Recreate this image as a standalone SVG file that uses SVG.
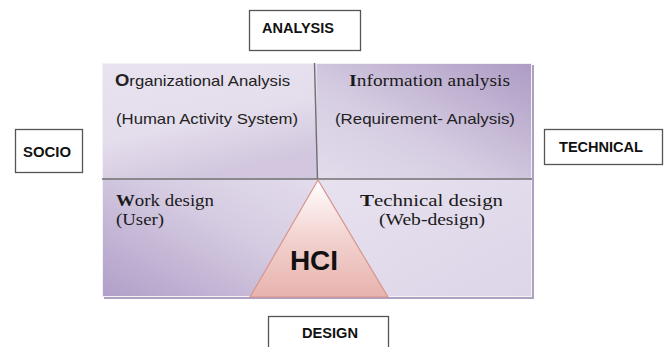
<svg xmlns="http://www.w3.org/2000/svg" width="667" height="347" viewBox="0 0 667 347">
<style>
.lbl{font-family:"Liberation Sans",Arial,sans-serif;font-weight:bold;font-size:14px;fill:#111}
.box{fill:#fff;stroke:#555;stroke-width:1.3}
.sans{font-family:"Liberation Sans",Arial,sans-serif;font-size:14.5px;fill:#222}
.serif{font-family:"Liberation Serif","Times New Roman",serif;font-size:16.5px;fill:#1a1a1a}
.div{stroke:#707070;stroke-width:1.4;fill:none}
</style>
<defs>
<linearGradient id="gTL" x1="0" y1="0" x2="0.4" y2="1"><stop offset="0" stop-color="#e9e3f0"/><stop offset="0.6" stop-color="#e4ddec"/><stop offset="1" stop-color="#d2c7de"/></linearGradient>
<linearGradient id="gTR" x1="1" y1="0" x2="0" y2="1"><stop offset="0" stop-color="#ad9bc4"/><stop offset="0.6" stop-color="#d6cde2"/><stop offset="1" stop-color="#e3dcec"/></linearGradient>
<linearGradient id="gBL" x1="0" y1="1" x2="1" y2="0"><stop offset="0" stop-color="#b09fc8"/><stop offset="0.6" stop-color="#d6cce2"/><stop offset="1" stop-color="#e3dcec"/></linearGradient>
<linearGradient id="gBR" x1="0" y1="0" x2="1" y2="1"><stop offset="0" stop-color="#e7e1ef"/><stop offset="1" stop-color="#ddd5e8"/></linearGradient>
<linearGradient id="gTri" x1="0" y1="0" x2="0" y2="1"><stop offset="0" stop-color="#ffffff"/><stop offset="0.5" stop-color="#f2d2cf"/><stop offset="1" stop-color="#e8b3ae"/></linearGradient>
</defs>
<g id="matrix">
<rect x="104" y="65" width="430" height="234" fill="#ada0c0"/>
<rect x="102" y="63" width="215" height="116" fill="url(#gTL)"/>
<rect x="317" y="63" width="215" height="116" fill="url(#gTR)"/>
<rect x="102" y="179" width="216" height="118" fill="url(#gBL)"/>
<rect x="318" y="179" width="214" height="118" fill="url(#gBR)"/>
<rect x="102.5" y="63.5" width="429" height="233" fill="none" stroke="#f3f0f6" stroke-width="1"/>
</g>
<g id="connectors">
<line class="div" x1="102" y1="179" x2="532" y2="179"/>
<line class="div" x1="314.5" y1="63" x2="317.5" y2="179"/>
</g>
<g id="quad-org">
<text class="sans" x="115" y="86" textLength="175" lengthAdjust="spacingAndGlyphs"><tspan font-weight="bold" font-size="16">O</tspan>rganizational Analysis</text>
<text class="sans" x="116" y="124" textLength="182" lengthAdjust="spacingAndGlyphs">(Human Activity System)</text>
</g>
<g id="quad-info">
<text class="serif" x="349" y="86" textLength="161" lengthAdjust="spacingAndGlyphs"><tspan font-weight="bold" font-size="17">I</tspan>nformation analysis</text>
<text class="sans" x="335" y="124" textLength="180" lengthAdjust="spacingAndGlyphs">(Requirement- Analysis)</text>
</g>
<g id="quad-work">
<text class="serif" x="116" y="206" textLength="98" lengthAdjust="spacingAndGlyphs"><tspan font-weight="bold">W</tspan>ork design</text>
<text class="serif" x="116" y="225" textLength="48" lengthAdjust="spacingAndGlyphs">(User)</text>
</g>
<g id="quad-tech">
<text class="serif" x="360" y="206" textLength="143" lengthAdjust="spacingAndGlyphs"><tspan font-weight="bold">T</tspan>echnical design</text>
<text class="serif" x="379" y="225" textLength="106" lengthAdjust="spacingAndGlyphs">(Web-design)</text>
</g>
<g id="hci">
<polygon points="318,180 250,297 388,297" fill="url(#gTri)" stroke="#d8948c" stroke-width="1.2"/>
<text x="314" y="270" text-anchor="middle" font-family="'Liberation Sans',Arial,sans-serif" font-weight="bold" font-size="28" fill="#111">HCI</text>
</g>
<g id="analysis">
<rect class="box" x="249.5" y="10.5" width="111" height="40"/>
<text class="lbl" x="262" y="33" textLength="72" lengthAdjust="spacingAndGlyphs">ANALYSIS</text>
</g>
<g id="socio">
<rect class="box" x="15.5" y="129.5" width="67" height="43"/>
<text class="lbl" x="23" y="157" textLength="48" lengthAdjust="spacingAndGlyphs">SOCIO</text>
</g>
<g id="technical">
<rect class="box" x="544.5" y="129.5" width="118" height="35"/>
<text class="lbl" x="559" y="152" textLength="84" lengthAdjust="spacingAndGlyphs">TECHNICAL</text>
</g>
<g id="design">
<rect class="box" x="268.5" y="316.5" width="120" height="40"/>
<text class="lbl" x="302" y="338" textLength="56" lengthAdjust="spacingAndGlyphs">DESIGN</text>
</g>
</svg>
